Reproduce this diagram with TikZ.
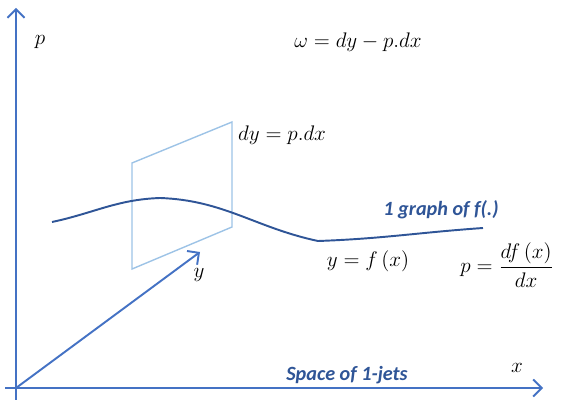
\documentclass[tikz,border=0pt]{standalone}
\usepackage{fontspec}
\usepackage{amsmath}
\usepackage{tikz}
\usetikzlibrary{positioning, arrows.meta, calc}
\newfontfamily\calibrifont{Carlito}
\definecolor{axis_blue}{RGB}{68, 114, 196}
\definecolor{curve_blue}{RGB}{47, 85, 151}
\definecolor{plane_blue}{RGB}{157, 195, 230}

\begin{document}
\begin{tikzpicture}[>={Straight Barb[length=1.7mm, width=3.4mm]},
      ax/.style={draw=axis_blue, line width=1.1pt},
      mth/.style={font=\fontsize{13}{15}\selectfont, inner sep=1pt},
      lbl/.style={font=\calibrifont\bfseries\itshape\fontsize{11.5}{13}\selectfont, text=curve_blue, inner sep=1pt}]
    \useasboundingbox (0,0) rectangle (11.48,8.02);
    \coordinate (O)  at (0.32,0.26);
    \coordinate (pb) at (0.32,0.02);
    \coordinate (pt) at (0.32,7.86);
    \coordinate (xl) at (0.10,0.26);
    \coordinate (xt) at (10.86,0.26);
    \coordinate (yt) at (4.00,2.98);
    \coordinate (q1) at (2.64,4.76);
    \coordinate (q2) at (4.64,5.58);
    \coordinate (q3) at (4.64,3.48);
    \coordinate (q4) at (2.64,2.64);
    \coordinate (c0) at (1.04,3.58);
    \coordinate (c1) at (3.20,4.06);
    \coordinate (c2) at (6.36,3.20);
    \coordinate (c3) at (9.66,3.46);
    \draw[ax, ->] (pb) -- (pt);
    \draw[ax, ->] (xl) -- (xt);
    \draw[ax, ->] (O) -- (yt);
    \draw[plane_blue, line width=0.8pt] (q1) -- (q2) -- (q3) -- (q4) -- cycle;
    \draw[curve_blue, line width=1.1pt] (c0) to[out=12, in=182] (c1)
      to[out=-2, in=168] (c2) to[out=2, in=184] (c3);
    \node[mth] (plbl) at (0.80,7.18) {$p$};
    \node[mth] (omega) at (7.16,7.18) {$\omega = dy - p.dx$};
    \node[mth, anchor=west] (contact) at (4.72,5.32) {$dy = p.dx$};
    \node[lbl] (graph) at (8.82,3.82) {1 graph of f(.)};
    \node[mth] (yfx) at (7.36,2.80) {$y = f\,(x)$};
    \node[mth] (pdf) at (10.14,2.72) {$p = \dfrac{df\,(x)}{dx}$};
    \node[mth] (ylbl) at (3.98,2.52) {$y$};
    \node[lbl] (jets) at (6.94,0.52) {Space of 1-jets};
    \node[mth] (xlbl) at (10.34,0.66) {$x$};
  \end{tikzpicture}
\end{document}
